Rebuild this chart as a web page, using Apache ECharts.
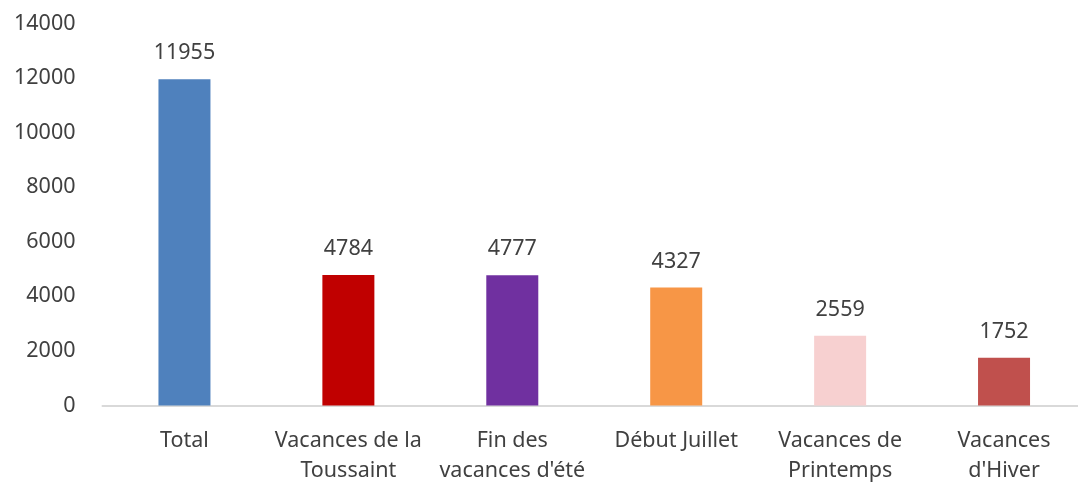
<!DOCTYPE html>
<html>
<head>
<meta charset="utf-8">
<script src="https://cdn.jsdelivr.net/npm/echarts@6/dist/echarts.min.js"></script>
<style>
  html, body { margin: 0; padding: 0; background: #fff; }
  #chart { width: 1078px; height: 484px; }
</style>
</head>
<body>
<div id="chart"></div>
<script>
// Holiday periods and their counts
const categories = [
  'Total',
  'Vacances de la\nToussaint',
  "Fin des\nvacances d'été",
  'Début Juillet',
  'Vacances de\nPrintemps',
  "Vacances\nd'Hiver"
];
const values = [11955, 4784, 4777, 4327, 2559, 1752];
const barColors = ['#4F81BD', '#C00000', '#7030A0', '#F79646', '#F7D0D0', '#C0504D'];
const yTicks = [0, 2000, 4000, 6000, 8000, 10000, 12000, 14000];

const font = '"Noto Sans", "Open Sans", sans-serif';
const textColor = '#404040';

const chart = echarts.init(document.getElementById('chart'), null, { renderer: 'canvas' });

chart.setOption({
  animation: false,
  grid: {
    left: 102.5, top: 23.5, right: -8, bottom: 78.5,
    containLabel: false,
    outerBoundsMode: 'none'
  },
  xAxis: {
    type: 'category',
    data: categories,
    axisLine: { show: true, lineStyle: { color: '#D9D9D9', width: 2 } },
    axisTick: { show: false },
    axisLabel: {
      interval: 0,
      margin: 20,
      color: textColor,
      fontFamily: font,
      fontSize: 21.5,
      lineHeight: 30
    }
  },
  yAxis: {
    type: 'value',
    min: yTicks[0],
    max: yTicks[yTicks.length - 1],
    interval: 2000,
    axisLine: { show: false },
    axisTick: { show: false },
    splitLine: { show: false },
    axisLabel: {
      margin: 27,
      color: textColor,
      fontFamily: font,
      fontSize: 21.5,
      formatter: v => String(v)
    }
  },
  series: [{
    type: 'bar',
    barWidth: 52,
    data: values.map((v, i) => ({ value: v, itemStyle: { color: barColors[i] } })),
    label: {
      show: true,
      position: 'top',
      distance: 15,
      color: textColor,
      fontFamily: font,
      fontSize: 21.5
    }
  }]
});
</script>
</body>
</html>
